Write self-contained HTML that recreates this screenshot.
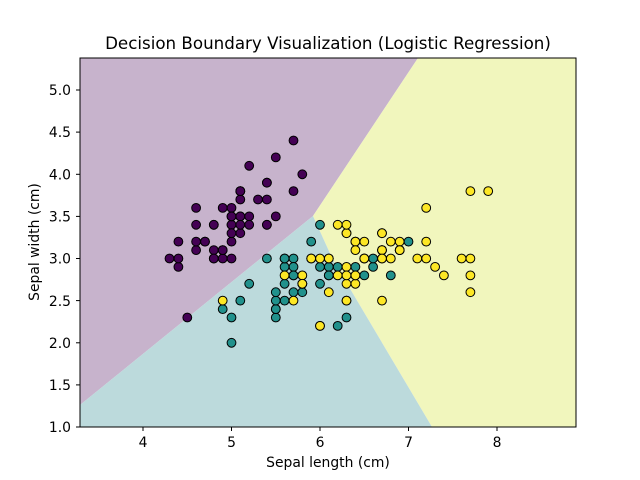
<!DOCTYPE html>
<html><head><meta charset="utf-8"><style>
body{margin:0;background:#fff;}
svg{display:block;font-family:"DejaVu Sans","Liberation Sans",sans-serif;}
</style></head><body>
<svg id="s" width="640" height="480" viewBox="0 0 640 480" xmlns="http://www.w3.org/2000/svg">
<rect width="640" height="480" fill="#fff"/>
<polygon points="80,58 418,58 313,216 80,405" fill="rgb(199,179,204)"/>
<polygon points="418,58 576,58 576,427 432,427 333,260 313,216" fill="rgb(241,246,189)"/>
<polygon points="80,405 313,216 333,260 432,427 80,427" fill="rgb(188,218,220)"/>
<g id="pts"></g>
<rect x="80" y="58" width="496" height="369" fill="none" stroke="#000" stroke-width="1"/>
<g stroke="#000" stroke-width="1">
<line x1="143" y1="427" x2="143" y2="431"/><line x1="231.5" y1="427" x2="231.5" y2="431"/>
<line x1="320" y1="427" x2="320" y2="431"/><line x1="408.5" y1="427" x2="408.5" y2="431"/>
<line x1="497" y1="427" x2="497" y2="431"/>
<line x1="76" y1="427" x2="80" y2="427"/><line x1="76" y1="384.9" x2="80" y2="384.9"/>
<line x1="76" y1="342.8" x2="80" y2="342.8"/><line x1="76" y1="300.6" x2="80" y2="300.6"/>
<line x1="76" y1="258.5" x2="80" y2="258.5"/><line x1="76" y1="216.4" x2="80" y2="216.4"/>
<line x1="76" y1="174.3" x2="80" y2="174.3"/><line x1="76" y1="132.1" x2="80" y2="132.1"/>
<line x1="76" y1="90" x2="80" y2="90"/>
</g>
<g font-size="13.9" fill="#000" text-anchor="middle">
<text x="143" y="447">4</text><text x="231.5" y="447">5</text><text x="320" y="447">6</text>
<text x="408.5" y="447">7</text><text x="497" y="447">8</text>
<text x="328" y="467">Sepal length (cm)</text>
</g>
<g font-size="13.9" fill="#000" text-anchor="end">
<text x="71" y="432">1.0</text><text x="71" y="390">1.5</text><text x="71" y="348">2.0</text>
<text x="71" y="306">2.5</text><text x="71" y="263.5">3.0</text><text x="71" y="221.5">3.5</text>
<text x="71" y="179.5">4.0</text><text x="71" y="137">4.5</text><text x="71" y="95">5.0</text>
</g>
<text transform="translate(39,242) rotate(-90)" font-size="13.9" text-anchor="middle">Sepal width (cm)</text>
<text x="328" y="49" font-size="16.7" text-anchor="middle">Decision Boundary Visualization (Logistic Regression)</text>
</svg>
<script>
var d=[
"5.1,3.5;4.9,3.0;4.7,3.2;4.6,3.1;5.0,3.6;5.4,3.9;4.6,3.4;5.0,3.4;4.4,2.9;4.9,3.1;5.4,3.7;4.8,3.4;4.8,3.0;4.3,3.0;5.8,4.0;5.7,4.4;5.4,3.9;5.1,3.5;5.7,3.8;5.1,3.8;5.4,3.4;5.1,3.7;4.6,3.6;5.1,3.3;4.8,3.4;5.0,3.0;5.0,3.4;5.2,3.5;5.2,3.4;4.7,3.2;4.8,3.1;5.4,3.4;5.2,4.1;5.5,4.2;4.9,3.1;5.0,3.2;5.5,3.5;4.9,3.6;4.4,3.0;5.1,3.4;5.0,3.5;4.5,2.3;4.4,3.2;5.0,3.5;5.1,3.8;4.8,3.0;5.1,3.8;4.6,3.2;5.3,3.7;5.0,3.3",
"7.0,3.2;6.4,3.2;6.9,3.1;5.5,2.3;6.5,2.8;5.7,2.8;6.3,3.3;4.9,2.4;6.6,2.9;5.2,2.7;5.0,2.0;5.9,3.0;6.0,2.2;6.1,2.9;5.6,2.9;6.7,3.1;5.6,3.0;5.8,2.7;6.2,2.2;5.6,2.5;5.9,3.2;6.1,2.8;6.3,2.5;6.1,2.8;6.4,2.9;6.6,3.0;6.8,2.8;6.7,3.0;6.0,2.9;5.7,2.6;5.5,2.4;5.5,2.4;5.8,2.7;6.0,2.7;5.4,3.0;6.0,3.4;6.7,3.1;6.3,2.3;5.6,3.0;5.5,2.5;5.5,2.6;6.1,3.0;5.8,2.6;5.0,2.3;5.6,2.7;5.7,3.0;5.7,2.9;6.2,2.9;5.1,2.5;5.7,2.8",
"6.3,3.3;5.8,2.7;7.1,3.0;6.3,2.9;6.5,3.0;7.6,3.0;4.9,2.5;7.3,2.9;6.7,2.5;7.2,3.6;6.5,3.2;6.4,2.7;6.8,3.0;5.7,2.5;5.8,2.8;6.4,3.2;6.5,3.0;7.7,3.8;7.7,2.6;6.0,2.2;6.9,3.2;5.6,2.8;7.7,2.8;6.3,2.7;6.7,3.3;7.2,3.2;6.2,2.8;6.1,3.0;6.4,2.8;7.2,3.0;7.4,2.8;7.9,3.8;6.4,2.8;6.3,2.8;6.1,2.6;7.7,3.0;6.3,3.4;6.4,3.1;6.0,3.0;6.9,3.1;6.7,3.1;6.9,3.1;5.8,2.7;6.8,3.2;6.7,3.3;6.7,3.0;6.3,2.5;6.5,3.0;6.2,3.4;5.9,3.0"];
var c=["#440154","#21918c","#fde725"],h="";
d.forEach(function(s,k){s.split(";").forEach(function(p){var v=p.split(",");
var x=143+(+v[0]-4)*88.5,y=427-(+v[1]-1)*84.25;
h+='<circle cx="'+x.toFixed(1)+'" cy="'+y.toFixed(1)+'" r="4.4" fill="'+c[k]+'" stroke="#000" stroke-width="1"/>';});});
document.getElementById("pts").innerHTML=h;
</script>
</body></html>
